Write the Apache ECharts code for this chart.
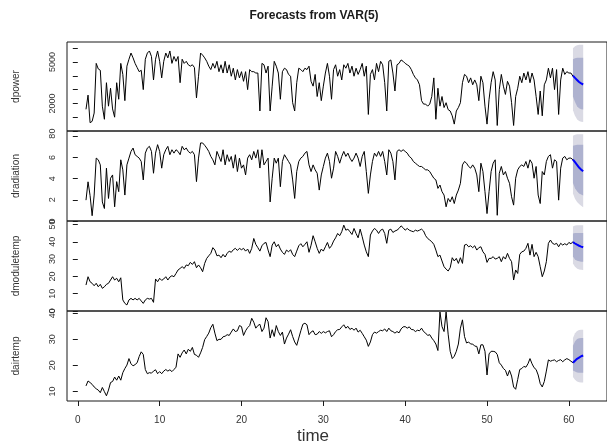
<!DOCTYPE html>
<html>
<head>
<meta charset="utf-8">
<script src="https://cdn.jsdelivr.net/npm/echarts@6/dist/echarts.min.js"></script>
<style>
	html, body { margin: 0; padding: 0; background: #fff; }
	#chart { width: 607px; height: 445px; }
</style>
</head>
<body>
<div id="chart"></div>
<script>
/* observed series: start at time 1, 4 observations per time unit */
const startTime = 1;
const obsPerUnit = 4;

const dpower = [
	1570, 2600, 600, 700, 1300, 4900, 4500, 4400, 1800, 850, 3500, 1800,
	3100, 1600, 1000, 3500, 2300, 4900, 4100, 2200, 4700, 5200, 5650, 5300,
	4900, 4600, 4300, 4400, 3000, 5200, 5650, 5800, 5400, 3700, 5200, 5800,
	5050, 3850, 5050, 5650, 5300, 5800, 4900, 5400, 5050, 5400, 3500, 5200,
	4900, 5050, 4800, 4700, 4800, 4600, 2400, 3970, 5650, 5500, 5300, 5050,
	4700, 4450, 4900, 4550, 5050, 4300, 4800, 4200, 5050, 4200, 4800, 3970,
	4550, 3700, 4450, 3850, 4300, 3600, 4300, 3000, 4450, 4300, 4300, 4200,
	4200, 1450, 4900, 4800, 4200, 4700, 1450, 3250, 5050, 4700, 4200, 2300,
	4300, 4550, 4450, 4100, 3970, 2050, 1450, 3500, 4550, 4450, 4300, 4550,
	4450, 4700, 3600, 3250, 4100, 2500, 3500, 2200, 3250, 4200, 4900, 3970,
	2300, 4450, 4800, 3970, 4450, 3700, 4800, 4550, 4900, 4200, 4700, 3970,
	4550, 4100, 4450, 4900, 3970, 4700, 1200, 4100, 4450, 3700, 4900, 4300,
	5050, 4800, 3500, 1450, 5050, 5150, 4200, 2900, 4800, 4900, 5150, 5050,
	4900, 4800, 4700, 4450, 4100, 3850, 3700, 3350, 2200, 1950, 1950, 1800,
	1950, 2500, 3850, 850, 3100, 1800, 2500, 1700, 2050, 1550, 1450, 1100,
	500, 1450, 1700, 2050, 3500, 4100, 3970, 3500, 3850, 3350, 3700, 3350,
	2200, 3970, 3500, 1800, 500, 2300, 3500, 4300, 3700, 400, 3000, 4100,
	3250, 2650, 3600, 3250, 2050, 400, 2500, 3100, 3970, 3500, 4200, 3700,
	4300, 3500, 4200, 3700, 2500, 1200, 2900, 1100, 3350, 3700, 4550, 3850,
	4550, 3000, 4450, 1200, 3700, 4550, 4100, 4300, 4200, 4200, 3970
];

const dradiation = [
	1.97, 3.7, 2.4, 0.5, 2.45, 5.94, 5.78, 5.3, 1.8, 1.18, 4.99, 2.13,
	4.04, 4.35, 1.34, 3.72, 2.77, 5.78, 4.83, 2.45, 5.3, 5.94, 6.57, 6.89,
	6.26, 6.1, 5.94, 5.62, 3.88, 6.41, 6.89, 7.05, 6.57, 4.51, 6.41, 7.21,
	6.57, 4.99, 6.26, 6.73, 7.05, 6.26, 6.73, 6.41, 6.73, 6.57, 6.26, 7.05,
	6.73, 6.89, 6.57, 6.41, 6.57, 6.26, 3.72, 5.94, 7.37, 7.37, 7.15, 6.89,
	6.57, 6.1, 5.78, 5.3, 6.57, 6.1, 5.62, 6.73, 5.3, 6.26, 5.62, 6.1,
	4.99, 6.26, 4.67, 5.94, 4.99, 5.3, 4.35, 5.94, 6.26, 5.78, 6.57, 5.94,
	6.73, 5.0, 6.73, 5.3, 5.62, 5.94, 1.8, 4.04, 5.94, 5.46, 5.94, 3.24,
	5.62, 6.26, 5.94, 5.62, 5.3, 3.88, 2.13, 4.67, 5.62, 5.94, 6.1, 6.41,
	6.57, 5.3, 4.67, 5.3, 4.83, 4.51, 2.92, 4.35, 5.15, 5.94, 6.41, 5.62,
	4.04, 4.99, 6.57, 6.1, 5.46, 6.1, 6.57, 6.1, 6.41, 5.94, 5.62, 5.94,
	6.41, 5.94, 5.15, 6.1, 6.57, 4.67, 2.61, 4.35, 5.62, 6.41, 6.1, 6.57,
	6.1, 6.57, 5.62, 4.35, 6.73, 6.41, 5.62, 3.88, 6.57, 6.73, 6.57, 6.73,
	6.57, 6.41, 6.1, 5.94, 5.62, 5.46, 5.3, 5.15, 5.15, 4.99, 4.83, 4.83,
	4.67, 4.35, 4.04, 3.88, 3.08, 3.4, 2.77, 2.45, 1.34, 2.13, 1.81, 2.29,
	1.65, 2.45, 2.92, 3.56, 5.3, 5.62, 5.46, 5.15, 4.99, 5.3, 4.99, 4.35,
	2.77, 5.46, 4.67, 2.77, 0.7, 2.77, 4.67, 5.46, 5.78, 0.54, 4.51, 5.15,
	4.35, 4.67, 4.04, 3.56, 2.29, 1.5, 4.04, 4.83, 5.15, 5.3, 5.15, 5.62,
	4.99, 5.78, 5.46, 4.04, 5.15, 2.45, 1.65, 4.67, 4.35, 5.62, 6.1, 6.26,
	4.99, 5.78, 5.62, 1.97, 4.99, 5.94, 6.1, 5.78, 5.94, 5.94, 5.78
];

const dmoduletemp = [
	15.0, 19.8, 16.9, 16.0, 14.6, 16.0, 14.0, 15.4, 13.1, 14.0, 15.4, 16.0,
	17.9, 19.8, 17.9, 18.9, 16.9, 19.2, 6.4, 4.4, 3.5, 6.4, 7.3, 6.4,
	7.3, 6.4, 7.3, 5.8, 4.4, 6.4, 7.3, 6.9, 7.3, 5.0, 18.5, 16.9,
	18.9, 17.7, 18.5, 19.8, 17.9, 19.6, 20.4, 19.8, 21.7, 23.7, 24.6, 25.6,
	24.6, 26.6, 26.2, 28.1, 26.9, 28.5, 25.0, 26.6, 25.0, 22.7, 27.5, 30.4,
	31.9, 33.3, 36.6, 35.2, 31.9, 32.3, 30.8, 32.7, 31.2, 33.3, 34.6, 33.9,
	35.4, 36.2, 35.0, 36.2, 35.4, 36.2, 34.6, 35.8, 33.3, 36.2, 41.9, 38.5,
	36.6, 34.6, 37.7, 39.1, 39.6, 35.2, 31.4, 38.1, 40.0, 37.1, 38.5, 35.8,
	33.9, 32.7, 35.2, 34.2, 35.4, 32.7, 31.4, 34.6, 37.7, 38.9, 37.1, 38.5,
	40.0, 33.9, 38.0, 43.5, 40.0, 36.2, 33.3, 35.8, 34.6, 37.1, 39.6, 36.2,
	37.7, 40.4, 42.3, 44.8, 43.5, 45.8, 49.6, 46.7, 47.3, 45.8, 44.2, 47.7,
	44.8, 42.3, 47.3, 42.9, 38.1, 34.2, 31.4, 43.9, 46.2, 47.7, 46.7, 44.8,
	46.7, 47.3, 44.8, 39.1, 46.7, 47.3, 45.4, 46.2, 46.7, 47.7, 49.2, 48.1,
	46.7, 47.7, 46.7, 46.2, 45.8, 46.7, 46.2, 46.7, 47.3, 46.2, 43.5, 41.9,
	41.0, 40.0, 38.5, 35.2, 31.4, 32.3, 28.9, 25.6, 24.2, 23.1, 25.0, 30.8,
	28.9, 30.4, 27.5, 30.8, 27.5, 38.1, 38.5, 37.1, 37.7, 36.6, 37.7, 35.2,
	36.6, 37.1, 34.2, 32.7, 28.1, 30.4, 30.4, 31.4, 30.0, 30.4, 31.4, 28.5,
	31.4, 30.0, 33.3, 30.4, 28.5, 17.9, 23.7, 21.7, 32.7, 34.2, 34.6, 36.2,
	39.1, 32.3, 38.5, 31.4, 33.9, 31.4, 25.6, 19.8, 23.1, 28.5, 39.1, 41.0,
	39.1, 38.5, 39.1, 37.1, 39.1, 38.1, 38.9, 38.1, 39.6, 38.9, 40.0
];

const dairtemp = [
	12.1, 14.0, 13.4, 12.7, 11.7, 11.0, 10.5, 9.5, 11.5, 9.9, 8.3, 10.5,
	13.4, 13.8, 15.5, 14.3, 15.9, 14.3, 17.2, 18.8, 20.1, 22.6, 20.6, 19.8,
	20.3, 21.0, 23.4, 25.2, 24.2, 18.4, 16.8, 17.2, 17.0, 17.8, 18.3, 16.8,
	17.6, 16.8, 17.8, 18.4, 17.8, 18.3, 17.6, 18.4, 19.3, 24.4, 23.1, 24.8,
	25.9, 24.4, 26.2, 25.4, 26.9, 24.2, 23.9, 23.1, 24.8, 26.9, 29.9, 31.1,
	32.4, 34.5, 35.8, 32.4, 29.5, 30.0, 30.0, 31.0, 31.2, 31.8, 31.5, 32.8,
	34.0, 33.0, 33.3, 35.3, 34.9, 31.5, 33.3, 34.5, 35.3, 38.1, 36.6, 34.3,
	35.3, 35.8, 33.0, 34.3, 38.3, 36.8, 30.5, 33.7, 31.1, 35.3, 33.0, 31.5,
	32.8, 28.2, 30.5, 32.0, 33.7, 31.1, 29.0, 27.7, 30.5, 33.3, 35.8, 36.2,
	35.6, 31.8, 32.8, 33.3, 31.8, 32.0, 33.0, 32.3, 33.0, 32.5, 33.0, 33.3,
	31.0, 31.8, 33.0, 33.7, 33.8, 34.8, 35.6, 34.3, 35.0, 33.8, 34.3, 33.5,
	34.3, 32.8, 33.5, 32.3, 31.0, 29.7, 27.3, 29.0, 31.8, 32.8, 32.4, 33.0,
	33.5, 33.3, 34.0, 33.0, 34.3, 33.3, 33.0, 32.4, 33.0, 32.5, 34.0, 34.8,
	34.9, 34.3, 34.8, 33.8, 33.7, 33.0, 33.5, 33.3, 34.3, 33.0, 32.4, 31.5,
	31.8, 30.5, 29.5, 28.2, 25.7, 40.5, 34.9, 33.0, 40.5, 32.0, 25.4, 22.6,
	23.5, 25.4, 28.2, 34.3, 37.5, 31.1, 28.6, 29.0, 28.2, 28.2, 27.4, 27.3,
	24.4, 27.9, 27.9, 25.4, 16.3, 24.4, 25.4, 25.4, 25.2, 24.2, 21.0, 20.1,
	18.8, 18.1, 15.9, 18.1, 15.9, 11.7, 10.8, 14.6, 18.4, 18.8, 19.6, 19.3,
	20.6, 22.6, 20.6, 19.1, 18.4, 16.3, 13.0, 11.7, 13.8, 17.8, 22.1, 21.6,
	21.9, 22.1, 21.4, 21.9, 22.2, 21.4, 22.1, 22.6, 22.2, 21.6, 21.0
];

/* forecasts (mean, 80% and 95% intervals) */
const fcTime = [60.5, 60.75, 61, 61.25, 61.5, 61.75];

const dpowerMean = [4000, 3850, 3700, 3550, 3450, 3370];
const dpowerLo80 = [2500, 2100, 1800, 1650, 1580, 1550];
const dpowerHi80 = [5200, 5280, 5300, 5300, 5300, 5300];
const dpowerLo95 = [1500, 1100, 850, 720, 670, 650];
const dpowerHi95 = [6000, 6150, 6220, 6250, 6250, 6250];

const dradiationMean = [5.8, 5.55, 5.3, 5.05, 4.85, 4.7];
const dradiationLo80 = [3.6, 3.1, 2.8, 2.6, 2.5, 2.4];
const dradiationHi80 = [7.1, 7.15, 7.2, 7.2, 7.2, 7.2];
const dradiationLo95 = [2.6, 2.1, 1.8, 1.6, 1.45, 1.3];
const dradiationHi95 = [8.05, 8.15, 8.2, 8.2, 8.2, 8.2];

const dmoduletempMean = [39.8, 39.0, 38.3, 37.7, 37.2, 36.8];
const dmoduletempLo80 = [31.5, 29.8, 29.0, 28.7, 28.5, 28.5];
const dmoduletempHi80 = [44.8, 45.0, 45.0, 45.0, 45.0, 45.0];
const dmoduletempLo95 = [27.5, 25.5, 24.5, 24.0, 23.8, 23.7];
const dmoduletempHi95 = [48.8, 49.4, 49.6, 49.6, 49.6, 49.6];

const dairtempMean = [21.0, 21.8, 22.5, 23.0, 23.5, 23.8];
const dairtempLo80 = [18.0, 17.6, 17.3, 17.2, 17.2, 17.2];
const dairtempHi80 = [27.5, 29.2, 30.1, 30.4, 30.5, 30.5];
const dairtempLo95 = [15.5, 14.5, 13.8, 13.5, 13.4, 13.4];
const dairtempHi95 = [30.5, 32.3, 33.2, 33.6, 33.7, 33.7];

/* axis ticks */
const timeTicks = [0, 10, 20, 30, 40, 50, 60];
const dpowerTicks = [0, 1000, 2000, 3000, 4000, 5000, 6000];
const dpowerLabels = [0, 2000, 5000];
const dradiationTicks = [0, 2, 4, 6, 8];
const dmoduletempTicks = [0, 10, 20, 30, 40, 50];
const dairtempTicks = [10, 20, 30, 40];

const FONT = '"Liberation Sans", Arial, sans-serif';
const LIGHT = '#dadae4';
const DARK = '#aeb2cf';

const panels = [
	{ name: 'dpower', obs: dpower, mean: dpowerMean, lo80: dpowerLo80, hi80: dpowerHi80, lo95: dpowerLo95, hi95: dpowerHi95, min: 0, max: 6450, ticks: dpowerTicks, labels: dpowerLabels },
	{ name: 'dradiation', obs: dradiation, mean: dradiationMean, lo80: dradiationLo80, hi80: dradiationHi80, lo95: dradiationLo95, hi95: dradiationHi95, min: 0, max: 8.5, ticks: dradiationTicks, labels: dradiationTicks },
	{ name: 'dmoduletemp', obs: dmoduletemp, mean: dmoduletempMean, lo80: dmoduletempLo80, hi80: dmoduletempHi80, lo95: dmoduletempLo95, hi95: dmoduletempHi95, min: 0, max: 52, ticks: dmoduletempTicks, labels: dmoduletempTicks },
	{ name: 'dairtemp', obs: dairtemp, mean: dairtempMean, lo80: dairtempLo80, hi80: dairtempHi80, lo95: dairtempLo95, hi95: dairtempHi95, min: 6.3, max: 40.9, ticks: dairtempTicks, labels: dairtempTicks }
];

const panelTop = [42, 131, 221, 311];
const panelHeight = [89, 90, 90, 90];

/* shaded interval as one polygon */
const bandSeries = (i, lo, hi, color) => ({
	type: 'custom',
	xAxisIndex: i,
	yAxisIndex: i,
	silent: true,
	z: 1,
	data: fcTime.map((t, k) => [t, lo[k], hi[k]]),
	encode: { x: 0, y: [1, 2] },
	renderItem(params, api) {
		if (params.dataIndex !== 0) return null;
		const upper = fcTime.map((t, k) => api.coord([t, hi[k]]));
		const lower = fcTime.map((t, k) => api.coord([t, lo[k]])).reverse();
		return {
			type: 'polygon',
			shape: { points: upper.concat(lower) },
			style: { fill: color }
		};
	}
});

const grid = [];
const xAxis = [];
const yAxis = [];
const series = [];

panels.forEach((p, i) => {
	const last = i === panels.length - 1;
	grid.push({
		left: 67,
		top: panelTop[i],
		width: 545,
		height: panelHeight[i],
		show: true,
		borderColor: '#1a1a1a',
		borderWidth: 1,
		backgroundColor: 'transparent'
	});
	xAxis.push({
		type: 'value',
		gridIndex: i,
		min: -1.32,
		max: 64.66,
		show: last,
		splitLine: { show: false },
		axisLine: { show: false },
		axisTick: {
			show: last,
			length: 5,
			customValues: timeTicks,
			lineStyle: { color: '#1a1a1a' }
		},
		axisLabel: {
			show: last,
			customValues: timeTicks,
			fontFamily: FONT,
			fontSize: 10,
			color: '#333',
			margin: 14
		}
	});
	yAxis.push({
		type: 'value',
		gridIndex: i,
		min: p.min,
		max: p.max,
		name: p.name,
		nameLocation: 'middle',
		nameGap: 46,
		nameTextStyle: { fontFamily: FONT, fontSize: 10, color: '#333' },
		splitLine: { show: false },
		axisLine: { show: false },
		axisTick: {
			show: true,
			length: 5,
			customValues: p.ticks,
			lineStyle: { color: '#1a1a1a' }
		},
		axisLabel: {
			rotate: 90,
			customValues: p.labels,
			formatter: v => String(v),
			fontFamily: FONT,
			fontSize: 9,
			color: '#333',
			margin: 10
		}
	});
	series.push(bandSeries(i, p.lo95, p.hi95, LIGHT));
	series.push(bandSeries(i, p.lo80, p.hi80, DARK));
	series.push({
		type: 'line',
		xAxisIndex: i,
		yAxisIndex: i,
		data: p.obs.map((v, k) => [startTime + k / obsPerUnit, v]),
		showSymbol: false,
		symbol: 'none',
		z: 3,
		lineStyle: { color: '#000', width: 1 }
	});
	series.push({
		type: 'line',
		xAxisIndex: i,
		yAxisIndex: i,
		data: p.mean.map((v, k) => [fcTime[k], v]),
		showSymbol: false,
		symbol: 'none',
		z: 4,
		lineStyle: { color: '#0000ff', width: 2 }
	});
});

const chart = echarts.init(document.getElementById('chart'), null, { renderer: 'canvas' });
chart.setOption({
	animation: false,
	backgroundColor: '#fff',
	grid,
	xAxis,
	yAxis,
	series,
	graphic: [
		{
			type: 'text',
			x: 314,
			y: 16,
			style: {
				text: 'Forecasts from VAR(5)',
				font: 'bold 12px ' + FONT,
				fill: '#1a1a1a',
				textAlign: 'center',
				textVerticalAlign: 'middle'
			}
		},
		{
			type: 'text',
			x: 313,
			y: 436,
			style: {
				text: 'time',
				font: '17px ' + FONT,
				fill: '#333',
				textAlign: 'center',
				textVerticalAlign: 'middle'
			}
		}
	]
});
</script>
</body>
</html>
